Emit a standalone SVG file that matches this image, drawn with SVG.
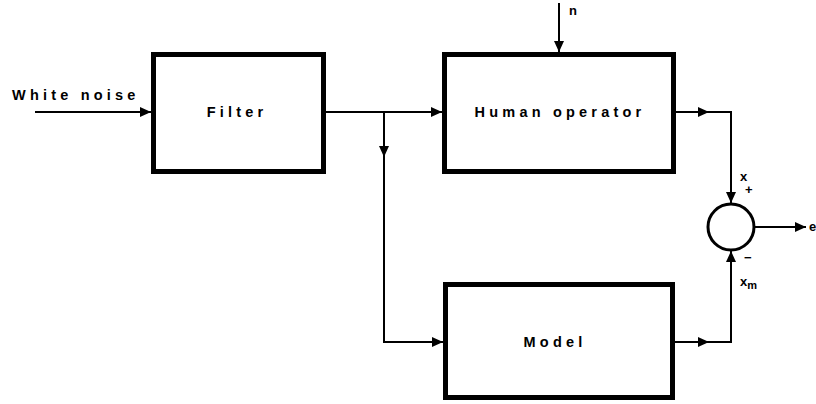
<svg xmlns="http://www.w3.org/2000/svg" width="816" height="404" viewBox="0 0 816 404">
<style>
.box{fill:#fff;stroke:#000;stroke-width:5}
.c{fill:none;stroke:#000;stroke-width:2}
.t{font-family:"Liberation Sans",Arial,sans-serif;font-weight:bold;font-size:14.5px;letter-spacing:4.2px;fill:#000}
.s{font-family:"Liberation Sans",Arial,sans-serif;font-weight:bold;font-size:13px;fill:#000}
</style>
<defs>
<marker id="a" markerUnits="userSpaceOnUse" markerWidth="11" markerHeight="10" refX="11" refY="5" orient="auto">
<path d="M0,0 L11,5 L0,10 z" fill="#000"/>
</marker>
</defs>
<rect width="816" height="404" fill="#fff"/>
<g id="connectors">
<path class="c" d="M35,112 H151" marker-end="url(#a)"/>
<path class="c" d="M326,112 H442" marker-end="url(#a)"/>
<path class="c" d="M384,112 V157" marker-end="url(#a)"/>
<path class="c" d="M384,156 V342 H443" marker-end="url(#a)"/>
<path class="c" d="M559,3 V52" marker-end="url(#a)"/>
<path class="c" d="M676,112 H709" marker-end="url(#a)"/>
<path class="c" d="M708,112 H731 V203" marker-end="url(#a)"/>
<path class="c" d="M675,342 H709" marker-end="url(#a)"/>
<path class="c" d="M708,342 H731 V251" marker-end="url(#a)"/>
<path class="c" d="M755,227 H806" marker-end="url(#a)"/>
</g>
<g id="filter">
<rect class="box" x="153.5" y="54.5" width="170" height="117"/>
<text class="t" x="237" y="117" text-anchor="middle">Filter</text>
</g>
<g id="human-operator">
<rect class="box" x="444.5" y="54.5" width="229" height="117"/>
<text class="t" x="560" y="117" text-anchor="middle">Human operator</text>
</g>
<g id="model">
<rect class="box" x="445.5" y="284.5" width="227" height="113"/>
<text class="t" x="555" y="347" text-anchor="middle">Model</text>
</g>
<g id="sum">
<circle cx="731" cy="227" r="23" fill="#fff" stroke="#000" stroke-width="3"/>
</g>
<g id="labels">
<text class="t" x="12" y="100">White noise</text>
<text class="s" x="569" y="15">n</text>
<text class="s" x="740" y="181">x</text>
<text class="s" x="745" y="194">+</text>
<text class="s" x="744" y="262">−</text>
<text class="s" x="740" y="286">x<tspan font-size="11" dy="3">m</tspan></text>
<text class="s" x="809" y="231">e</text>
</g>
</svg>
